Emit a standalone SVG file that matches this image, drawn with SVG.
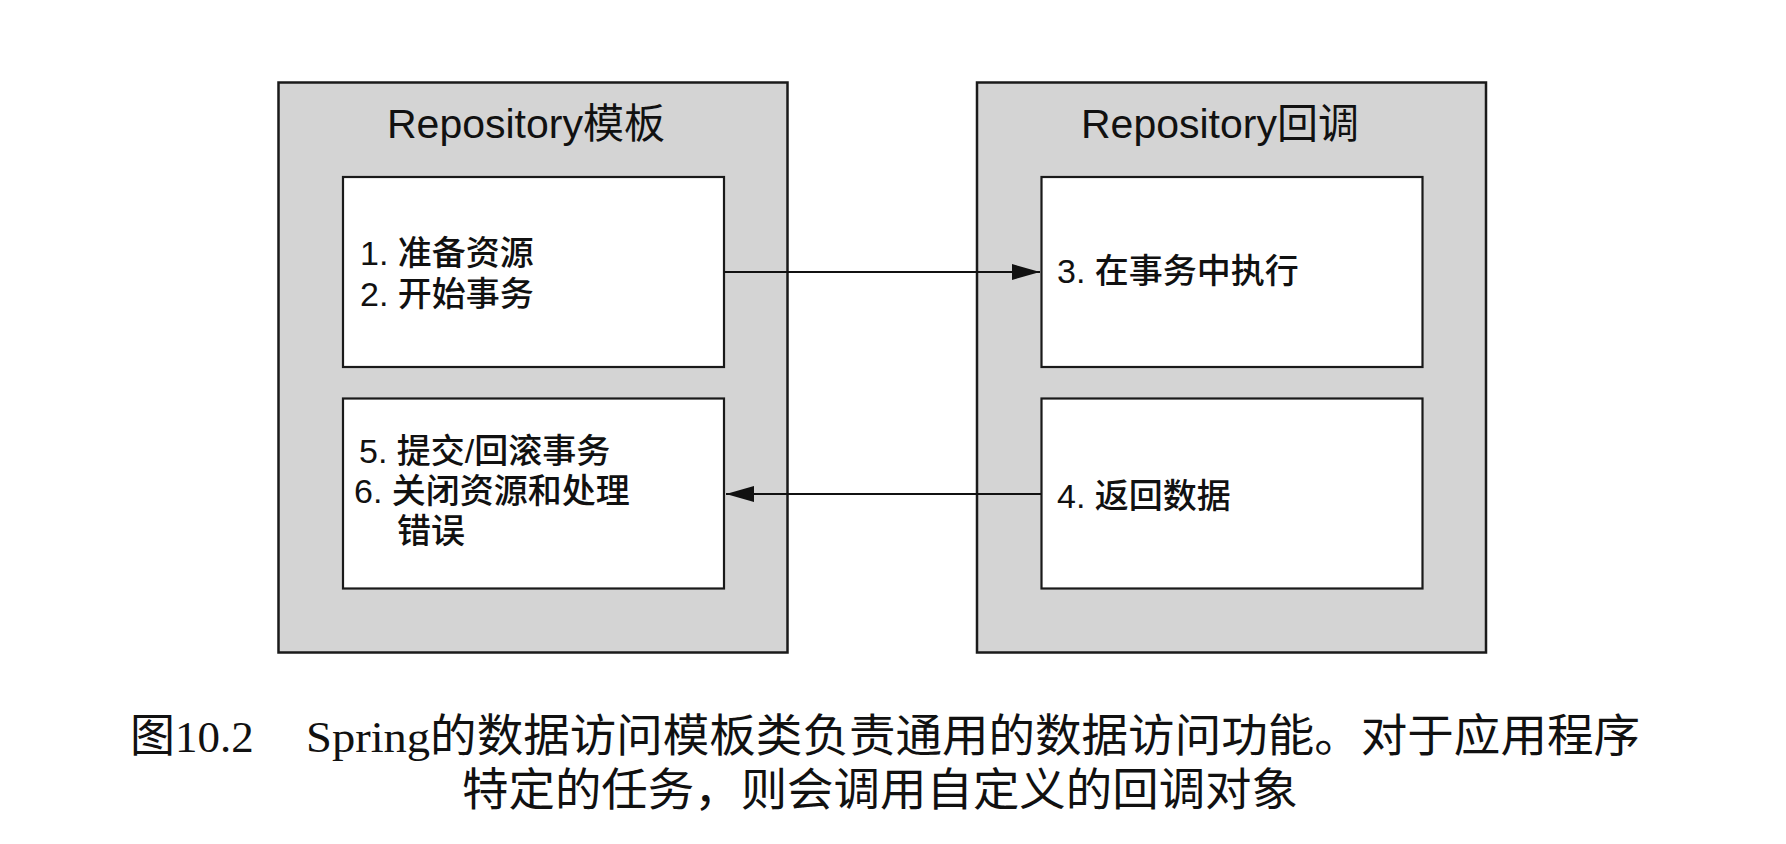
<svg xmlns="http://www.w3.org/2000/svg" width="1786" height="844" viewBox="0 0 1786 844">
<style>
.outer{fill:#d4d4d4;stroke:#1a1a1a;stroke-width:2.5}
.inner{fill:#ffffff;stroke:#1a1a1a;stroke-width:2.2}
.title{font-family:"Liberation Sans","Noto Sans CJK SC",sans-serif;font-size:41px;fill:#111}
.lbl{font-family:"Liberation Sans","Noto Sans CJK SC",sans-serif;font-size:34px;font-weight:500;fill:#111}
.cap{font-family:"Liberation Serif","Noto Sans CJK SC",serif;font-size:45px;fill:#111}
.conn{stroke:#111;stroke-width:2;fill:none}
</style>
<defs>
<marker id="arr" markerWidth="30" markerHeight="16" refX="28" refY="8" orient="auto" markerUnits="userSpaceOnUse">
<path d="M0,0 L28,8 L0,16 Z" fill="#111"/>
</marker>
</defs>
<rect width="1786" height="844" fill="#ffffff"/>
<g id="template">
<rect class="outer" x="278.5" y="82.5" width="509" height="570"/>
<text class="title" x="387" y="138">Repository模板</text>
</g>
<g id="template-start">
<rect class="inner" x="343" y="177" width="381" height="190"/>
<text class="lbl" x="360" y="265">1. 准备资源</text>
<text class="lbl" x="360" y="306">2. 开始事务</text>
</g>
<g id="template-end">
<rect class="inner" x="343" y="398.5" width="381" height="190"/>
<text class="lbl" x="359" y="463">5. 提交/回滚事务</text>
<text class="lbl" x="354" y="503">6. 关闭资源和处理</text>
<text class="lbl" x="397" y="543">错误</text>
</g>
<g id="callback">
<rect class="outer" x="977" y="82.5" width="509" height="570"/>
<text class="title" x="1081" y="138">Repository回调</text>
</g>
<g id="callback-exec">
<rect class="inner" x="1041.5" y="177" width="381" height="190"/>
<text class="lbl" x="1057" y="283">3. 在事务中执行</text>
</g>
<g id="callback-return">
<rect class="inner" x="1041.5" y="398.5" width="381" height="190"/>
<text class="lbl" x="1057" y="508">4. 返回数据</text>
</g>
<g id="connectors">
<line class="conn" x1="724" y1="272" x2="1040" y2="272" marker-end="url(#arr)"/>
<line class="conn" x1="1041" y1="494" x2="726" y2="494" marker-end="url(#arr)"/>
</g>
<g id="caption">
<text class="cap" x="130" y="752">图10.2</text>
<text class="cap" x="306" y="752" textLength="1334" lengthAdjust="spacingAndGlyphs">Spring的数据访问模板类负责通用的数据访问功能。对于应用程序</text>
<text class="cap" x="462" y="806" textLength="836" lengthAdjust="spacingAndGlyphs">特定的任务，则会调用自定义的回调对象</text>
</g>
</svg>
